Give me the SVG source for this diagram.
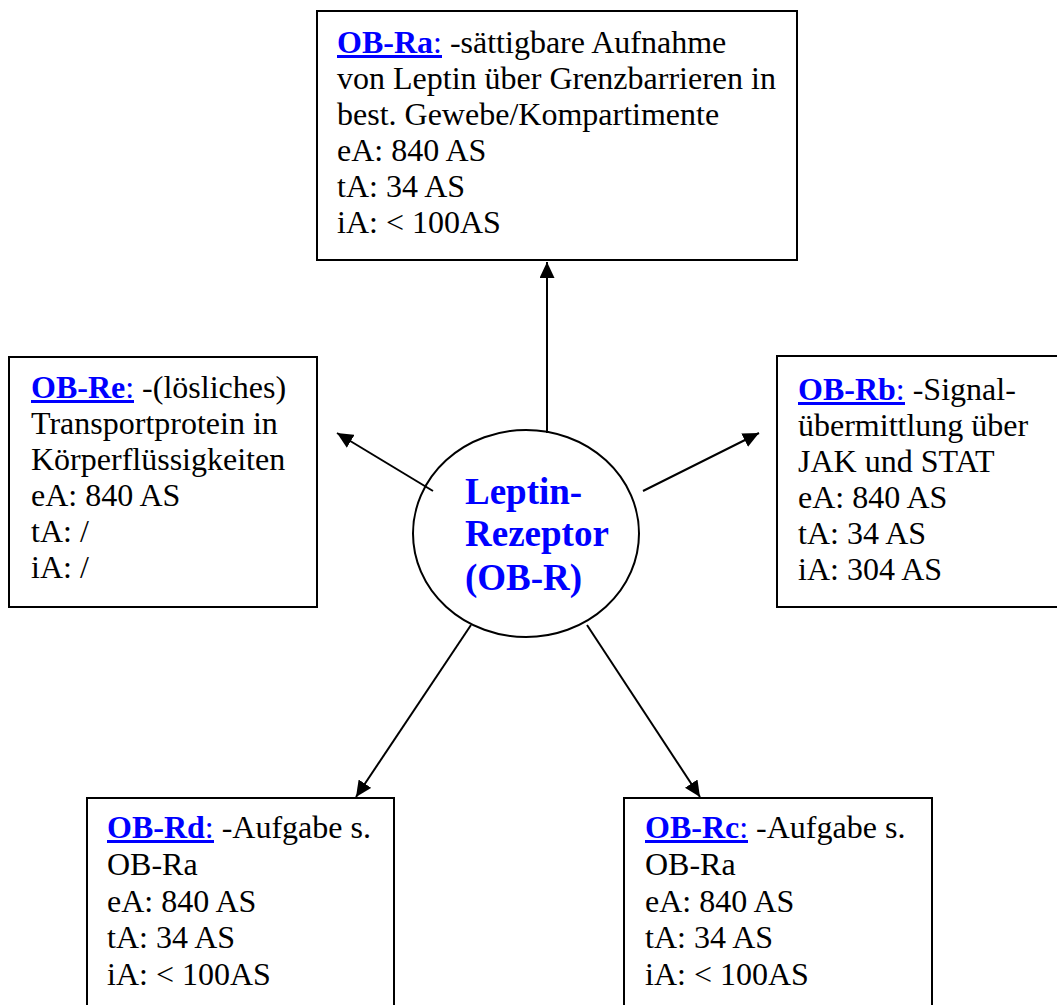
<svg xmlns="http://www.w3.org/2000/svg" width="1057" height="1005" viewBox="0 0 1057 1005">
<style>
  .box { fill: #fff; stroke: #000; stroke-width: 2; }
  .t { font-family: "Liberation Serif", "Times New Roman", serif; font-size: 32px; fill: #000; }
  .lbl { fill: #0000ff; }
  .b { font-weight: bold; }
  .ul { fill: #0000ff; }
  .ctr { font-family: "Liberation Serif", "Times New Roman", serif; font-size: 37px; font-weight: bold; fill: #0000ff; }
  .con { stroke: #000; stroke-width: 2; fill: none; marker-end: url(#arr); }
</style>
<defs>
  <marker id="arr" markerUnits="userSpaceOnUse" markerWidth="17" markerHeight="15" refX="16" refY="7.5" orient="auto">
    <path d="M0,0 L16,7.5 L0,15 z" fill="#000"/>
  </marker>
</defs>
<rect width="1057" height="1005" fill="#fff"/>
<g id="connectors">
  <line class="con" x1="547" y1="433" x2="547" y2="262"/>
  <line class="con" x1="433" y1="491" x2="337" y2="433"/>
  <line class="con" x1="643" y1="491" x2="759" y2="433"/>
  <line class="con" x1="471" y1="625" x2="356" y2="797"/>
  <line class="con" x1="587" y1="625" x2="700" y2="797"/>
</g>
<g id="center">
  <ellipse cx="526" cy="533.5" rx="113" ry="103.5" fill="none" stroke="#000" stroke-width="2"/>
  <text class="ctr" x="465" y="504">Leptin-</text>
  <text class="ctr" x="465" y="546">Rezeptor</text>
  <text class="ctr" x="465" y="590">(OB-R)</text>
</g>
<g id="ob-ra">
  <rect class="box" x="317" y="11" width="480" height="249"/>
  <text class="t" x="337" y="53"><tspan class="lbl"><tspan class="b">OB-Ra</tspan>:</tspan> -sättigbare Aufnahme</text>
  <rect class="ul" x="337" y="55" width="105" height="3"/>
  <text class="t" x="337" y="89">von Leptin über Grenzbarrieren in</text>
  <text class="t" x="337" y="125">best. Gewebe/Kompartimente</text>
  <text class="t" x="337" y="161">eA: 840 AS</text>
  <text class="t" x="337" y="197">tA: 34 AS</text>
  <text class="t" x="337" y="233">iA: &lt; 100AS</text>
</g>
<g id="ob-re">
  <rect class="box" x="9" y="357" width="308" height="250"/>
  <text class="t" x="31" y="398"><tspan class="lbl"><tspan class="b">OB-Re</tspan>:</tspan> -(lösliches)</text>
  <rect class="ul" x="31" y="400" width="103" height="3"/>
  <text class="t" x="31" y="434">Transportprotein in</text>
  <text class="t" x="31" y="470">Körperflüssigkeiten</text>
  <text class="t" x="31" y="506">eA: 840 AS</text>
  <text class="t" x="31" y="542">tA: /</text>
  <text class="t" x="31" y="578">iA: /</text>
</g>
<g id="ob-rb">
  <rect class="box" x="777" y="356" width="290" height="251"/>
  <text class="t" x="798" y="400"><tspan class="lbl"><tspan class="b">OB-Rb</tspan>:</tspan> -Signal-</text>
  <rect class="ul" x="798" y="402" width="107" height="3"/>
  <text class="t" x="798" y="436">übermittlung über</text>
  <text class="t" x="798" y="472">JAK und STAT</text>
  <text class="t" x="798" y="508">eA: 840 AS</text>
  <text class="t" x="798" y="544">tA: 34 AS</text>
  <text class="t" x="798" y="580">iA: 304 AS</text>
</g>
<g id="ob-rd">
  <rect class="box" x="87" y="798" width="307" height="220"/>
  <text class="t" x="107" y="838"><tspan class="lbl"><tspan class="b">OB-Rd</tspan>:</tspan> -Aufgabe s.</text>
  <rect class="ul" x="107" y="840" width="107" height="3"/>
  <text class="t" x="107" y="875">OB-Ra</text>
  <text class="t" x="107" y="912">eA: 840 AS</text>
  <text class="t" x="107" y="948">tA: 34 AS</text>
  <text class="t" x="107" y="985">iA: &lt; 100AS</text>
</g>
<g id="ob-rc">
  <rect class="box" x="624" y="798" width="308" height="220"/>
  <text class="t" x="645" y="838"><tspan class="lbl"><tspan class="b">OB-Rc</tspan>:</tspan> -Aufgabe s.</text>
  <rect class="ul" x="645" y="840" width="103" height="3"/>
  <text class="t" x="645" y="875">OB-Ra</text>
  <text class="t" x="645" y="912">eA: 840 AS</text>
  <text class="t" x="645" y="948">tA: 34 AS</text>
  <text class="t" x="645" y="985">iA: &lt; 100AS</text>
</g>
</svg>
